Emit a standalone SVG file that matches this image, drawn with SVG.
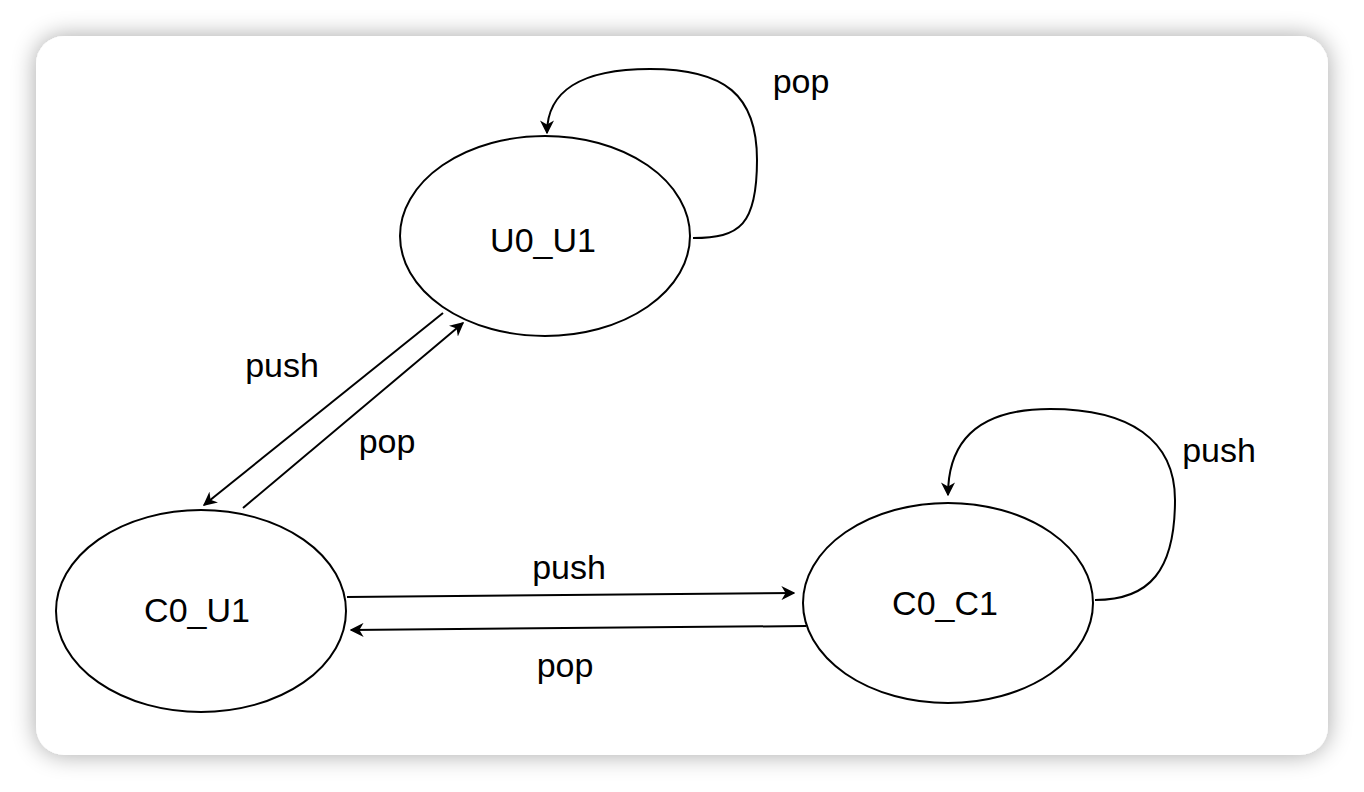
<svg xmlns="http://www.w3.org/2000/svg" width="1364" height="792" viewBox="0 0 1364 792">
<defs>
<filter id="sh" x="-10%" y="-10%" width="120%" height="120%">
<feGaussianBlur in="SourceAlpha" stdDeviation="12"/>
<feComponentTransfer><feFuncA type="linear" slope="0.35"/></feComponentTransfer>
<feMerge><feMergeNode/><feMergeNode in="SourceGraphic"/></feMerge>
</filter>
<marker id="ah" viewBox="0 0 10 10" refX="9" refY="5" markerWidth="14" markerHeight="14" markerUnits="userSpaceOnUse" orient="auto">
<path d="M0,0 L10,5 L0,10 L3,5 Z" fill="#000"/>
</marker>
<style>
.n{fill:#fff;stroke:#000;stroke-width:2}
.e{fill:none;stroke:#000;stroke-width:2;marker-end:url(#ah)}
.t{font-family:"Liberation Sans",Arial,sans-serif;font-size:34px;fill:#000;text-anchor:middle}
</style>
</defs>
<rect width="1364" height="792" fill="#fff"/>
<rect x="36" y="36" width="1292" height="719" rx="28" fill="#fff" filter="url(#sh)"/>
<g id="connectors">
<path class="e" d="M693 238 C740 238 757 225 757 160 C757 95 725 69 650 69 C580 69 547 92 547 133"/>
<path class="e" d="M1095 600 C1150 600 1175 570 1175 500 C1175 440 1130 409 1050 409 C980 409 948 440 948 495"/>
<path class="e" d="M443 313 L204 505"/>
<path class="e" d="M243 508 L463 323"/>
<path class="e" d="M347 597 L794 593"/>
<path class="e" d="M806 626 L351 630"/>
</g>
<g id="U0_U1"><ellipse class="n" cx="545" cy="236" rx="145" ry="100"/><text class="t" x="543" y="252">U0_U1</text></g>
<g id="C0_U1"><ellipse class="n" cx="201" cy="611" rx="145" ry="101"/><text class="t" x="197" y="622">C0_U1</text></g>
<g id="C0_C1"><ellipse class="n" cx="948" cy="603" rx="145" ry="100"/><text class="t" x="945" y="615">C0_C1</text></g>
<g id="labels">
<text class="t" x="801" y="93">pop</text>
<text class="t" x="1219" y="462">push</text>
<text class="t" x="282" y="377">push</text>
<text class="t" x="387" y="453">pop</text>
<text class="t" x="569" y="579">push</text>
<text class="t" x="565" y="677">pop</text>
</g>
</svg>
